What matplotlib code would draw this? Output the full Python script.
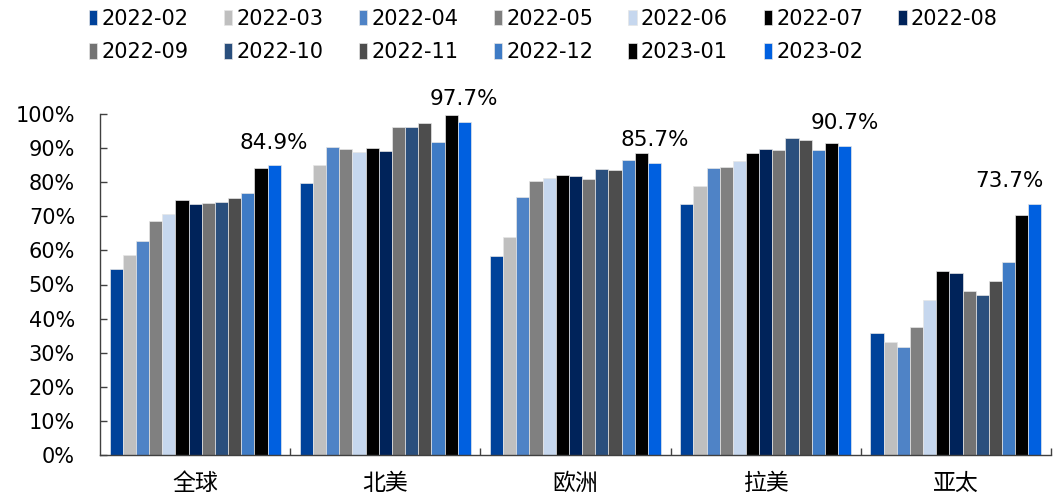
import matplotlib
matplotlib.use('Agg')
import matplotlib.pyplot as plt
import numpy as np

# regions and months
regions = ['全球', '北美', '欧洲', '拉美', '亚太']
months = ['2022-02', '2022-03', '2022-04', '2022-05', '2022-06', '2022-07', '2022-08',
          '2022-09', '2022-10', '2022-11', '2022-12', '2023-01', '2023-02']

# values per region (%), one per month
global_vals = [54.5, 58.7, 62.8, 68.7, 70.8, 74.8, 73.7, 73.8, 74.3, 75.3, 76.9, 84.3, 84.9]
na_vals = [79.7, 85.0, 90.3, 89.6, 88.9, 90.0, 89.1, 96.2, 96.2, 97.4, 91.8, 99.7, 97.7]
eu_vals = [58.3, 64.0, 75.6, 80.4, 81.2, 82.0, 81.8, 81.0, 83.8, 83.7, 86.5, 88.5, 85.7]
la_vals = [73.5, 78.8, 84.1, 84.4, 86.2, 88.6, 89.8, 89.5, 93.1, 92.5, 89.5, 91.5, 90.7]
ap_vals = [35.7, 33.2, 31.8, 37.4, 45.4, 54.0, 53.3, 48.1, 46.8, 50.9, 56.5, 70.3, 73.7]

colours = ['#00429A', '#BFBFBF', '#4F83C6', '#808080', '#C6D7EE', '#000000', '#00235A',
           '#737373', '#2A4F7D', '#4D4D4D', '#3E7BC5', '#000000', '#0060E0']

values = np.array([global_vals, na_vals, eu_vals, la_vals, ap_vals]) / 100.0

plt.rcParams['font.family'] = ['DejaVu Sans', 'Noto Sans CJK SC']

fig = plt.figure(figsize=(10.61, 5.0), dpi=100)
ax = fig.add_axes([0.0943, 0.09, 0.8963, 0.682])

x = np.arange(len(regions))
w = 0.0692
bars = []
for i, m in enumerate(months):
    b = ax.bar(x + (i - 6) * w, values[:, i], width=w, color=colours[i],
               edgecolor='#e6e6e6', linewidth=0.5, label=m)
    bars.append(b)

# label the latest month above each group
for j in range(len(regions)):
    v = values[j, -1]
    dx = -18 if j == len(regions) - 1 else 0
    ax.annotate(f'{v * 100:.1f}%', (x[j] + 6 * w, v), xytext=(dx, 9),
                textcoords='offset points', ha='center', va='bottom', fontsize=15.5)

ax.set_xlim(-0.5, 4.5)
ax.set_ylim(0, 1.0)
ax.set_yticks(np.arange(0, 1.01, 0.1))
ax.set_yticklabels([f'{int(round(t * 100))}%' for t in np.arange(0, 1.01, 0.1)])
ax.set_xticks(x)
ax.set_xticklabels(regions, family=['Noto Sans CJK SC'], fontsize=16.5)
ax.set_xticks(np.arange(0.5, 4.6, 1.0), minor=True)

ax.tick_params(axis='y', direction='in', length=5, width=1, color='#404040',
               labelsize=15, pad=18)
ax.tick_params(axis='x', which='major', length=0, pad=12)
ax.tick_params(axis='x', which='minor', direction='in', length=5, width=1, color='#404040')

for s in ['top', 'right']:
    ax.spines[s].set_visible(False)
for s in ['left', 'bottom']:
    ax.spines[s].set_color('#404040')
    ax.spines[s].set_linewidth(1)

# legend in row order (matplotlib fills columns first)
order = [0, 7, 1, 8, 2, 9, 3, 10, 4, 11, 5, 12, 6]
handles = [bars[k] for k in order]
labels = [months[k] for k in order]
fig.legend(handles, labels, ncol=7, loc='upper center', bbox_to_anchor=(0.512, 1.02),
           frameon=False, fontsize=15, handlelength=0.4, handleheight=0.75,
           handletextpad=0.2, columnspacing=1.7, labelspacing=0.65)

fig.savefig('out.png', dpi=100)
